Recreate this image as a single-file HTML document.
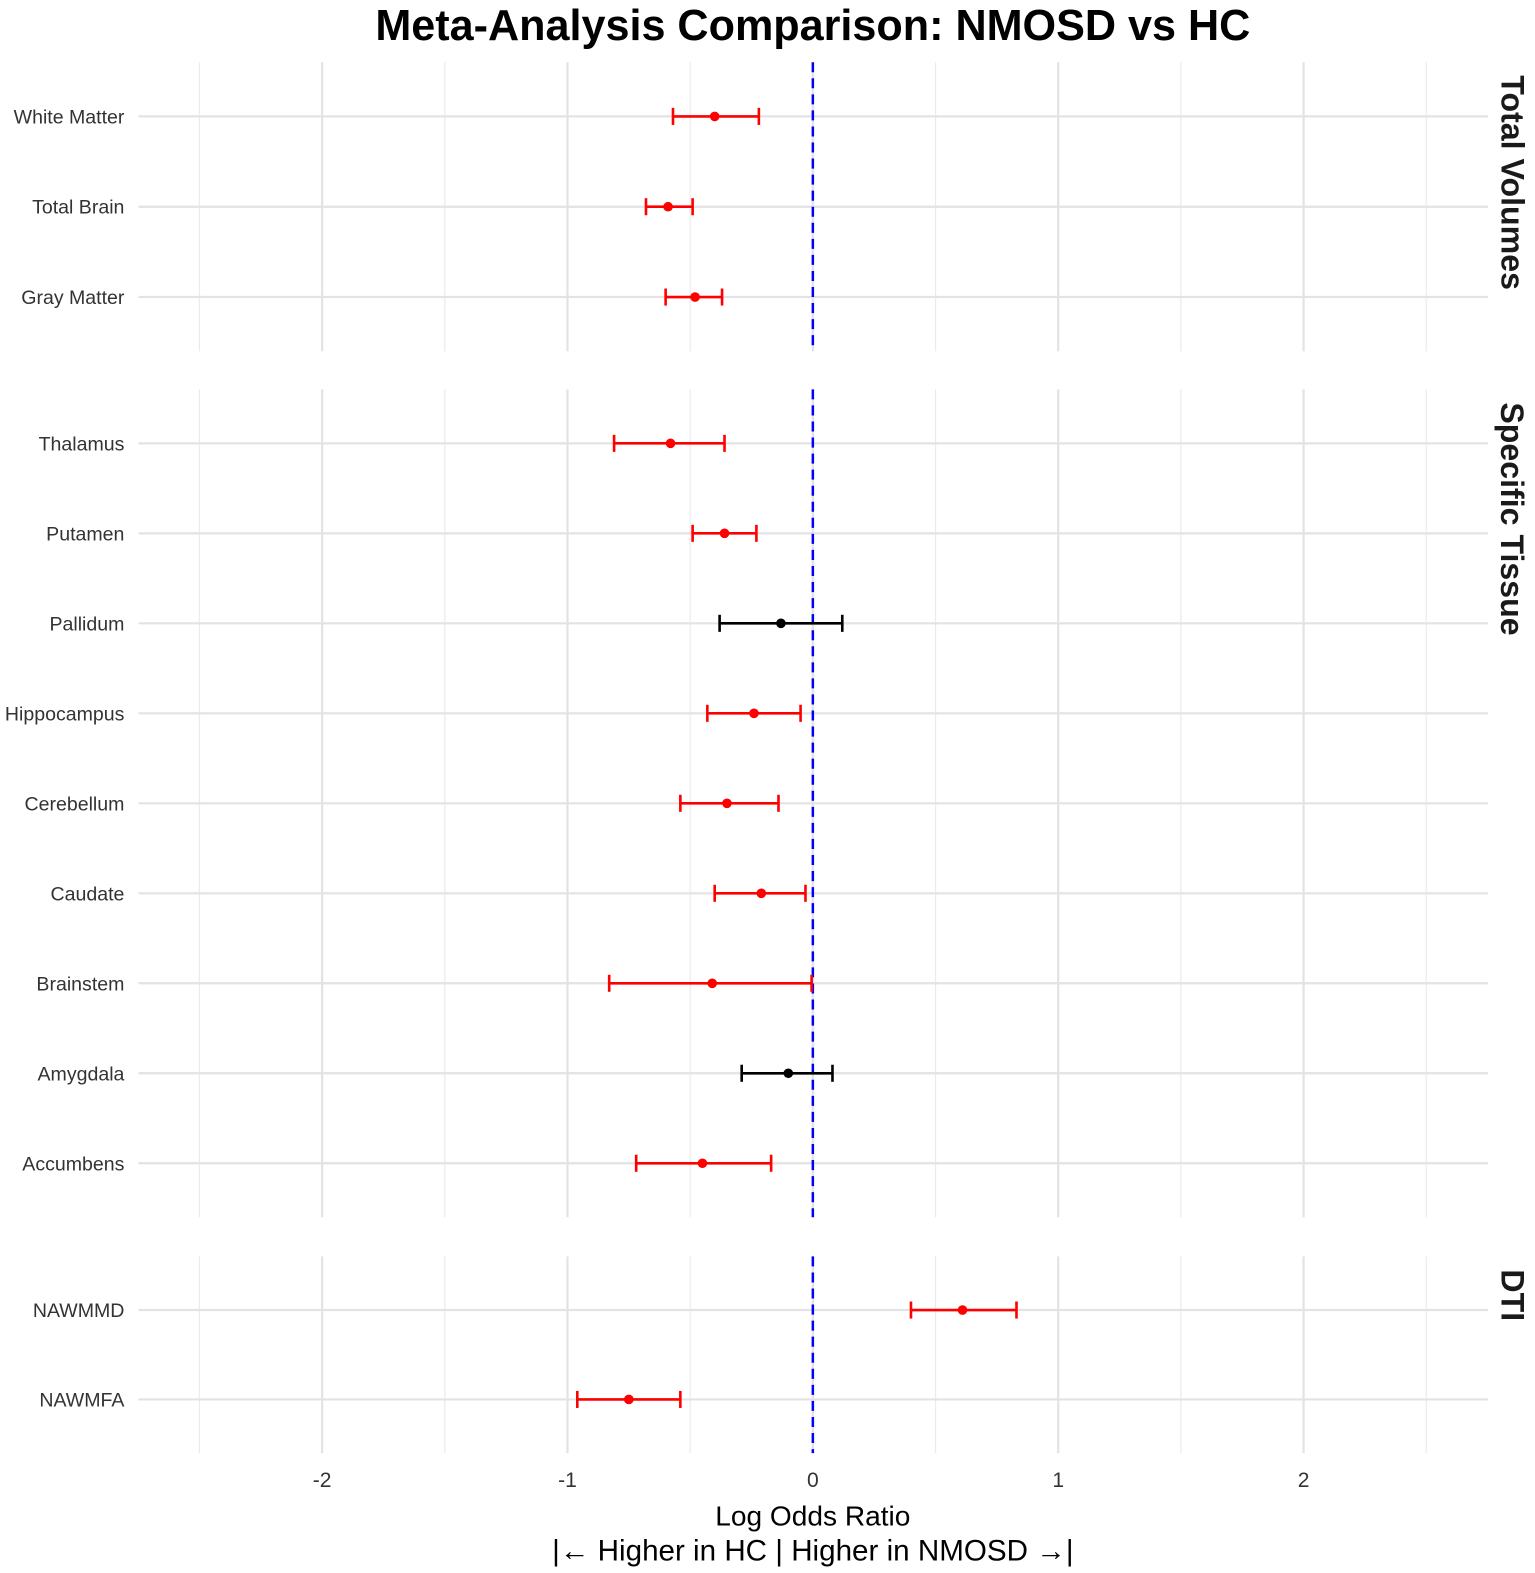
<!DOCTYPE html>
<html><head><meta charset="utf-8"><style>
html,body{margin:0;padding:0;background:#fff;overflow:hidden;}
svg{display:block;font-family:"Liberation Sans",Arial,sans-serif;}
</style></head><body>
<svg id="chart" width="1535" height="1573" viewBox="0 0 1529.6 1567.5" preserveAspectRatio="xMinYMin meet">
<text x="810" y="40" text-anchor="middle" font-size="43" font-weight="bold" fill="#000">Meta-Analysis Comparison: NMOSD vs HC</text>
<g id="grid"></g><g id="marks"></g>
<text x="810" y="1520" text-anchor="middle" font-size="28" fill="#000">Log Odds Ratio</text>
<text x="810" y="1555" text-anchor="middle" font-size="29.5" fill="#000">|← Higher in HC | Higher in NMOSD →|</text>
</svg>
<script>
const panelNames = ["Total Volumes","Specific Tissue","DTI"];
const panelTop = [62,388,1252];
const panelBottom = [350,1213,1448];
const categories = [
 ["White Matter","Total Brain","Gray Matter"],
 ["Thalamus","Putamen","Pallidum","Hippocampus","Cerebellum","Caudate","Brainstem","Amygdala","Accumbens"],
 ["NAWMMD","NAWMFA"]];
const estimates = [[-0.40,-0.59,-0.48],[-0.58,-0.36,-0.13,-0.24,-0.35,-0.21,-0.41,-0.10,-0.45],[0.61,-0.75]];
const lower = [[-0.57,-0.68,-0.60],[-0.81,-0.49,-0.38,-0.43,-0.54,-0.40,-0.83,-0.29,-0.72],[0.40,-0.96]];
const upper = [[-0.22,-0.49,-0.37],[-0.36,-0.23,0.12,-0.05,-0.14,-0.03,-0.005,0.08,-0.17],[0.83,-0.54]];
const significant = [[1,1,1],[1,1,0,1,1,1,1,0,1],[1,1]];
const xTicks = [-2,-1,0,1,2];
const xMinor = [-2.5,-1.5,-0.5,0.5,1.5,2.5];

const NS="http://www.w3.org/2000/svg";
const X0=138, X1=1483;
const xs = v => 810 + v*244.5;
const grid=document.getElementById('grid'), marks=document.getElementById('marks');
function mk(tag, attrs, parent){const e=document.createElementNS(NS,tag);for(const k in attrs)e.setAttribute(k,attrs[k]);parent.appendChild(e);return e;}

panelNames.forEach((pn,p)=>{
  const top=panelTop[p], bot=panelBottom[p], n=categories[p].length;
  const step=(bot-top)/(n+0.2);
  const ys = i => top + step*(0.6+i);
  xMinor.forEach(v=>{const l=mk('line',{x1:xs(v),x2:xs(v),y1:top,y2:bot,stroke:'#ebebeb','stroke-width':1.2},grid);
    
    });
  xTicks.forEach(v=>{const l=mk('line',{x1:xs(v),x2:xs(v),y1:top,y2:bot,stroke:'#e3e3e3','stroke-width':2.2},grid);
    
    });
  categories[p].forEach((c,i)=>{
    const y=ys(i);
    const gl=mk('line',{x1:X0,x2:X1,y1:y,y2:y,stroke:'#e3e3e3','stroke-width':2.2},grid);
    
    
    const t=mk('text',{x:124,y:y+7,'text-anchor':'end','font-size':19.5,fill:'#333'},grid);
    t.textContent=c;
    
    
  });
  const zl=mk('line',{x1:xs(0),x2:xs(0),y1:top,y2:bot,stroke:'#0000ff','stroke-width':2.5,'stroke-dasharray':'10,6'},marks);
  
  
  categories[p].forEach((c,i)=>{
    const y=ys(i), col=significant[p][i]?'#ff0000':'#000000';
    const g=mk('g',{},marks);
    
    
    mk('line',{x1:xs(lower[p][i]),x2:xs(upper[p][i]),y1:y,y2:y,stroke:col,'stroke-width':2.6},g);
    mk('line',{x1:xs(lower[p][i]),x2:xs(lower[p][i]),y1:y-8.5,y2:y+8.5,stroke:col,'stroke-width':2.6},g);
    mk('line',{x1:xs(upper[p][i]),x2:xs(upper[p][i]),y1:y-8.5,y2:y+8.5,stroke:col,'stroke-width':2.6},g);
    const pt=mk('circle',{cx:xs(estimates[p][i]),cy:y,r:4.8,fill:col},marks);
    
    
  });
  const cx=1496, cy=top+13;
  const st=mk('text',{x:cx,y:cy,'text-anchor':'start','font-size':32,'font-weight':'bold',fill:'#1a1a1a',transform:`rotate(90 ${cx} ${cy})`},grid);
  st.textContent=pn;
  
  
});
xTicks.forEach(v=>{
  const t=mk('text',{x:xs(v),y:1482,'text-anchor':'middle','font-size':21,fill:'#333'},grid);
  t.textContent=v;
  
  
});
</script>
</body></html>
